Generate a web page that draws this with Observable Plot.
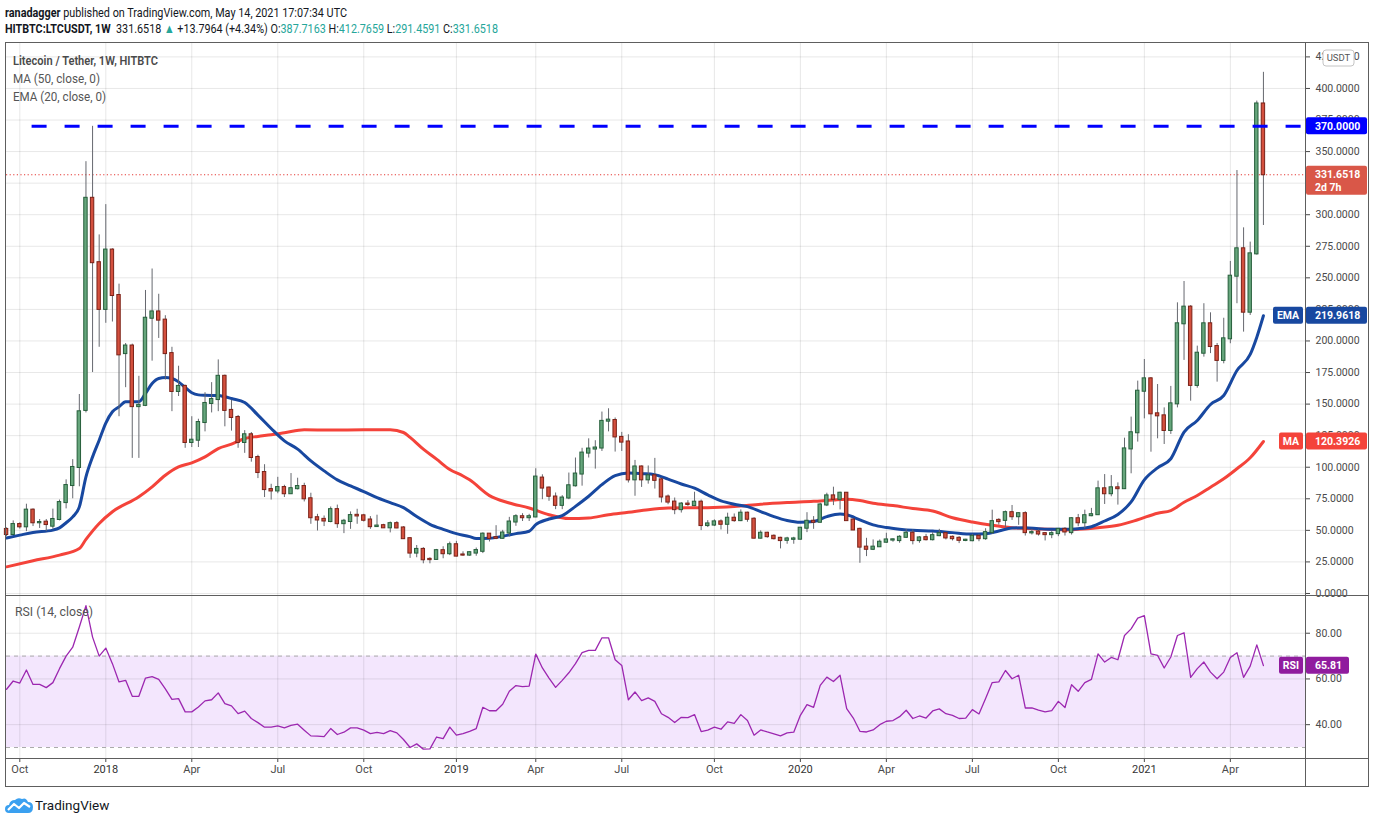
<!DOCTYPE html>
<html><head><meta charset="utf-8">
<script src="https://cdn.jsdelivr.net/npm/d3@7"></script>
<script src="https://cdn.jsdelivr.net/npm/@observablehq/plot@0.6"></script>
<style>
html,body{margin:0;padding:0;background:#fff;overflow:hidden}
#wrap{position:relative;width:1376px;height:823px;overflow:hidden;background:#fff;font-family:Roboto,"Liberation Sans",sans-serif;color:#131722}
.abs{position:absolute}
.fit{display:inline-block;white-space:nowrap;transform-origin:left center}
.teal{color:#26a69a}
</style></head><body><div id="wrap"></div>
<script>
// ---------------- data ----------------
const start = "2017-09-18"; // first weekly bar (Monday)
const open = [
50.7,46.7,54.6,52.8,66,56,56.5,53.3,58.6,72,
85.5,99.8,145,313,262,225,272,236,190,196,
148,149,218,223,216.5,190,160,164,119.6,121.4,
135.4,150.5,153.6,172,145,139.4,119.6,125.7,107.7,95.8,
82.3,81.2,83.9,79,83,84.7,75,60,58.7,57,
66.4,55.3,57,61.9,61.5,58.2,53,53.7,52,55.3,
51.9,43.4,32,34.9,27,27,33.9,31.5,38.6,30.5,
30.4,32,33.4,47,44.2,43.7,47.9,56.6,60.8,60,
60.6,91.4,83.5,76.4,69.8,75.6,85.3,94.6,111.2,114.4,
115.2,136.5,137,123.6,120,90,100.2,90,93.2,90,
76.4,72.4,66.4,70.8,69.6,72.3,53.8,54.2,56.7,54.8,
59.6,57.7,63.6,58.8,43.8,47.7,45.3,43.7,42.1,42.9,
43,51.7,57.2,56.4,70.1,77.3,74.6,79.4,58.2,50.8,
36.7,35,37,40.6,42.3,41.9,44.5,47.7,41.9,44.2,
42.6,45.8,47.4,44.5,43.7,42,41.8,45.3,43.4,48.2,
57.9,57.9,64,60.8,63.2,48,48.7,47.4,46.6,47.4,
50.8,48.2,59.2,56,61.6,62.4,82.9,79,83.7,83,
114.5,127.3,160.2,170,142.3,140.7,129.1,150.2,213.6,226.8,
164.8,190.3,213.6,195.6,184.6,201.7,251.3,273,222.8,269,
387.7163];
const high = [
52,57.5,56,70.7,67,58.6,58.6,66.8,74,90,
106,157.6,342,370,284,308,273,245,198,197.5,
172,240,257,237,220,195,180,165,140,138,
159,167,185,173,153,141,129,127.5,109.5,102,
86.5,92,85.7,95,91.3,87.3,79.4,62.7,61.4,68.5,
70,58.7,64.6,66.7,62.7,60.9,62,54.8,56.6,56.9,
52.9,44.2,38,36.3,28.3,34.9,37,40.7,41.3,33,
33,36,48,47.4,53.7,50,60.3,62.4,63.2,62.7,
98.8,94,84.3,79.6,77.5,95.4,107.3,115,122.5,121,
143.7,146.3,139,127.6,125.7,105.4,101,101,107,91.4,
78,75.6,72,73.5,80.2,74,57.7,58.3,58.3,63.6,
63,66.2,64.4,60,49.6,48.5,46.4,44.5,44.5,44.5,
52.2,64,60.9,71.5,79.4,84.2,80.2,80,59,51.7,
43.7,42.4,42.4,47.7,43.2,45.8,50.8,50.3,45,46.8,
48.2,50.8,48.4,45.5,45,42.9,46.8,46.8,51.3,66,
59.2,65.3,69.7,64,64.7,50.8,50.3,48.2,49,51.3,
52.1,60,62.6,66,67.4,89,94.2,93.4,87.6,123,
139.7,168.2,185.3,171,165.5,147,164,230.2,247.1,228,
195.9,229.5,222.3,198,218,263,335,289.6,278.3,390,
412.7659];
const low = [
45,46,51,49,53,51.5,49,51,57.5,67,
75,84.5,143,175,195,214,215,140,163,107,
107,148,184,202,169,144,156,115,115.6,115.6,
128,143,144,132,128.6,115,111,104,91,76,
74,79,76,78.5,82,72.5,54.8,49.5,53,56,
51.6,47.4,50.8,54.8,56.6,50.8,52.5,51.6,48,51.3,
42.9,27.8,28.3,23.5,23.5,26.5,27.5,30,29,29.5,
29.5,29.5,31.6,40.8,42.6,43,44.8,53.2,57,57,
60,74.3,73,66.4,66.4,74.3,84.3,85,107.3,98.5,
112.5,128,112,112.5,87.5,77,84,86.6,82.7,71.7,
70.3,62.4,63.7,69,68.8,49.8,52.2,53,50.3,46.9,
56.4,56.9,56.4,43.2,43.2,43.8,42.4,35.3,39,39,
42.4,48.2,50.8,56,68.8,69.6,66.2,57.4,49.8,23.9,
29.2,34,36.6,39.8,40.6,39.8,43.7,38.5,39.8,41.6,
41.6,45,42.4,41.6,39.5,41,41,41,42.1,46.8,
54.2,52.1,57.9,54,45.5,46.3,45.5,41.6,43.4,45,
45.5,46.3,52.9,51.3,60.8,61.8,70.5,76.6,70,82.4,
94.8,119.9,138.3,111.9,122.5,118,126,147,184.6,152.3,
162.6,187.2,190,167.4,181.9,197.8,229.5,207,220.2,268,
291.4591];
const close = [
46.7,54.6,52.8,66,56,56.2,54.6,58.6,72,85.5,
99.8,143.9,313,262,225,272,236,189,196,148,
149,218,223,216.5,190,160,164,119.6,121.4,135.4,
150.5,153.6,172,145,139.4,119.6,125.7,107.7,95.8,82.3,
81.2,83.9,79,83,84.7,75,60,58.2,57.4,66.4,
55.3,57.2,61.7,61.4,58,52.9,53.4,52,55.3,51.9,
43.4,32,34.9,26.7,26.8,33.9,31.5,38.6,29.6,30.4,
32.3,34,47,43.6,43.7,47.9,56.6,60.8,60,60.8,
92.2,83.5,77,69.8,75.6,85.3,94.6,111.2,114.4,115.2,
136.3,137.3,124,119.9,90,100.2,90,93.2,89.6,76.4,
72.4,66.4,70.8,70.5,72.3,53.8,55.1,56.7,54.8,59.6,
57.7,63.6,58.8,43.8,47.7,45,43.4,41.9,43.2,43.2,
51.7,57.2,56.4,70.1,77.3,74.6,79.4,57.7,50.3,36.7,
35,36.7,40.6,42.4,42.5,44.5,47.7,41.9,44,42.6,
45.8,47.4,44,43.4,42.1,42.2,45.3,43.4,48.2,56.9,
56.9,64,60.8,63.2,48.2,48.2,47.1,46.6,47.4,50.8,
48.7,59.2,56,61.6,62.4,82.9,79,83.7,83,114.5,
127.3,160.2,170,142.3,140.7,129.1,150.2,213.6,226.8,164.8,
190.3,213.6,195.6,184.6,201.7,251.3,273,222.8,269,387.7163,
331.6518];
const rsi = [
55.5,59.1,58.2,63.9,57.6,57.6,56.2,58.4,64.5,70,
73.9,82.7,92.1,78.3,70,73.5,66.7,58.7,59.4,52.4,
52.4,60.4,61,59.8,55.7,51.1,51.4,45.6,45.6,47.7,
50.4,50.9,53.9,49.2,48.2,44.8,45.9,42.7,40.9,38.9,
38.9,39.5,38.6,39.7,40.2,37.6,35.1,35,34.8,38.3,
35.7,36.7,38.6,38.6,37.6,36.1,36.6,36.1,37.4,36.4,
33.5,30,31.6,29.3,29.4,34.6,33.9,38.9,35.4,36.1,
37.1,38.3,47.6,46.1,46.1,48.9,54.6,57.1,56.6,56.9,
70.9,64.8,60.4,56.3,59.4,62.7,66.7,71.5,72.5,72.5,
78,78,68.4,65.9,50.9,54.3,50.5,51.7,50.2,44.8,
43.2,40.9,43.2,43.1,44.4,37,37.6,38.9,38,41.2,
40.6,44.4,41.8,35.4,37.7,36.8,36,35.1,36.4,36.7,
44.1,48.8,47.6,57.2,60.8,58.9,61.6,47,42.9,37.1,
36.8,37.7,40,41.5,41.8,43.5,46.3,42.7,43.8,42.9,
46,46.9,44.8,44.1,42.7,42.9,46.6,44.7,51.4,58.4,
58.7,63.7,60.1,61.6,47.3,47.3,46.4,45.6,46.1,50.2,
47.5,57.5,54.6,58.4,59.8,71,67.4,69.4,68.4,79,
81.9,86.6,87.7,71,70.3,64.8,69.6,79,80.2,60.7,
64.5,67.4,63,60.1,63,69.4,71.5,60.7,65.6,74.9,
65.81];
// EMA(20) and MA(50) at these bar numbers
const emaWeek = [0,2,4,7,8,9,10,11,12,13,14,15,16,17,18,20,21,22,23,24,25,26,27,28,29,30,32,33,34,36,38,40,42,44,46,48,50,52,54,56,58,60,62,64,66,68,70,71,73,75,77,79,80,82,84,86,88,90,92,94,96,98,100,102,104,106,108,110,112,114,116,118,120,122,124,126,127,129,131,133,135,137,140,143,146,148,150,152,154,156,158,160,162,164,166,168,170,172,174,176,178,180,182,184,186,188,189,190];
const emaValue = [44,46.2,48.3,50.2,52,56,60.7,68.6,92.4,108.2,121.4,135,143.9,147.8,151.8,151.8,158.4,166.3,170.3,171,170.3,167.6,163.2,159,157.3,157,156.8,155.8,154.4,151.3,141.3,130.7,120.9,114.3,105,97.1,90,85.2,80.7,75.9,72,68,60.9,54.8,50.8,47.4,45,43.5,43.7,45.3,47.4,49.3,54.5,59,61.7,69,77,86.2,93.3,95.4,94.9,94.1,90.6,86.7,83.4,78.1,73.3,70.7,68.8,64.9,60.9,57.8,56.4,57,60.9,63,62.3,58.3,54.3,52.2,50.9,50,49.5,48.2,47.1,47.4,49.5,51.8,52.1,51.3,50.8,50.8,51.3,52.9,57.4,62.6,72.5,90,99.5,106.7,127.8,137,149.7,156.8,176.6,189.3,203,219.9618];
const maWeek = [0,4,8,11,12,14,16,20,22,24,26,28,30,32,34,36,38,40,42,45,49,54,58,60,61,63,65,67,69,70,73,76,79,82,85,88,91,94,97,100,103,106,110,114,118,122,125,127,129,131,134,137,140,143,146,149,152,155,158,160,162,165,168,171,174,176,178,180,182,184,186,188,190];
const maValue = [21.1,25.9,30.4,35.6,42.8,55.4,64.7,76.6,84.5,93.7,100.3,103.5,108.2,114.8,118.3,122.8,124.4,125.7,127.3,129.7,129.4,129.7,129.7,127.5,123.6,114.3,106.4,98.2,93.1,90,77.5,71.7,67.7,62.4,59.3,59.8,62.4,64.3,66.4,67.7,68,68,68.8,70.7,72,73,74.1,74.6,73.6,71.5,69.6,67.3,65.3,60,56.6,54,52.1,51.3,50.8,50.3,50.8,52.1,54,58.4,63.6,65.7,72.3,77.6,84.2,90.8,98.8,107.5,120.3926];
const priceTicks = [0,25,50,75,100,125,150,175,200,225,250,275,300,325,350,375,400,425];
const priceLabels = [0,25,50,75,100,125,150,175,200,225,250,275,300,350,375,400,425]; // 325 sits under the last-price tag
const rsiTicks = [80,60,40];
const rsiBand = [30,70];
const tickMonths = ["2017-10","2018-01","2018-04","2018-07","2018-10","2019-01","2019-04","2019-07","2019-10","2020-01","2020-04","2020-07","2020-10","2021-01","2021-04"];
const tickLabels = ["Oct","2018","Apr","Jul","Oct","2019","Apr","Jul","Oct","2020","Apr","Jul","Oct","2021","Apr"];
const resistance = [370];
const resistanceFrom = "2017-10-15";
const prevClose = 317.8554; // header shows change +13.7964
const countdown = "2d 7h";

// ---------------- layout ----------------
const W = 1376, xL = 6, xR = 1305;
const day = 864e5, jan18 = Date.UTC(2018,0,1), pxDay = 6.615/7;
const xDomain = [new Date(jan18 - (105.3 - xL)/pxDay*day), new Date(jan18 + (xR - 105.3)/pxDay*day)];
const mainTop = 42, mainH = 553, rsiTop = 596, rsiH = 190;
const grid = "rgba(0,0,0,0.095)";
const upFill = "#66a67c", upLine = "#265e3b", dnFill = "#d4503e", dnLine = "#7a2117", wick = "#66686f";
const emaColor = "#1848a0", maColor = "#f4433a", rsiColor = "#9c27b0";
const font = "Roboto, 'Liberation Sans', sans-serif";

const dates = open.map((_, i) => d3.utcMonday.offset(new Date(start), i));
const bars = dates.map((date, i) => ({date, open: open[i], high: high[i], low: low[i], close: close[i]}));
const ema = emaWeek.map((w, i) => ({date: dates[w], v: emaValue[i]}));
const ma = maWeek.map((w, i) => ({date: dates[w], v: maValue[i]}));
const rsiData = rsi.map((v, i) => ({date: dates[i], v}));
const tickDates = tickMonths.map(m => d3.utcMonday.ceil(new Date(m + "-01")));
const labelOf = new Map(tickDates.map((d, i) => [+d, tickLabels[i]]));
const half = 1.8 * day;
const last = bars[bars.length - 1];

const wrap = document.getElementById("wrap");
function html(s, css){ const d = document.createElement("div"); d.className = "abs"; d.style.cssText = css; d.innerHTML = s; wrap.appendChild(d); return d; }

// ---------------- main price pane ----------------
const main = Plot.plot({
  width: W, height: mainH, marginLeft: xL, marginRight: W - xR, marginTop: 0, marginBottom: 0,
  style: {fontFamily: font, fontSize: "10.5px", color: "#4a4a4a", background: "transparent", overflow: "visible"},
  x: {type: "utc", domain: xDomain, axis: null, label: null},
  y: {domain: [-1.6, 436.4], axis: null, label: null},
  marks: [
    Plot.ruleY(priceTicks, {stroke: grid}),
    Plot.ruleX(tickDates, {stroke: grid}),
    Plot.ruleY([last.close], {stroke: "#e53935", strokeDasharray: "1.2,2.4", strokeWidth: 1}),
    Plot.line(ma, {x: "date", y: "v", stroke: maColor, strokeWidth: 3, curve: "monotone-x"}),
    Plot.line(ema, {x: "date", y: "v", stroke: emaColor, strokeWidth: 3, curve: "monotone-x"}),
    Plot.ruleX(bars, {x: "date", y1: "low", y2: "high", stroke: wick, strokeWidth: 1}),
    Plot.rect(bars, {x1: d => new Date(+d.date - half), x2: d => new Date(+d.date + half), y1: "open", y2: "close",
      insetTop: -0.5, insetBottom: -0.5,
      fill: d => d.close >= d.open ? upFill : dnFill, stroke: d => d.close >= d.open ? upLine : dnLine, strokeWidth: 1}),
    Plot.ruleY(resistance, {x1: new Date(resistanceFrom), x2: xDomain[1], stroke: "#0000ff", strokeWidth: 3, strokeDasharray: "15,18"}),
    Plot.axisY(priceLabels, {anchor: "right", label: null, tickFormat: d => d.toFixed(4), tickSize: 4, tickPadding: 6, fill: "#4a4a4a", stroke: "#4a4a4a"})
  ]
});
main.style.position = "absolute"; main.style.left = "0px"; main.style.top = mainTop + "px";
wrap.appendChild(main);

// ---------------- RSI pane ----------------
const rsiChart = Plot.plot({
  width: W, height: rsiH, marginLeft: xL, marginRight: W - xR, marginTop: 0, marginBottom: 28,
  style: {fontFamily: font, fontSize: "10.5px", color: "#4a4a4a", background: "transparent", overflow: "visible"},
  x: {type: "utc", domain: xDomain, axis: null, label: null},
  y: {domain: [25.2, 96.07], axis: null, label: null},
  marks: [
    Plot.rect([0], {x1: xDomain[0], x2: xDomain[1], y1: rsiBand[0], y2: rsiBand[1], fill: "#f3e6fd"}),
    Plot.ruleY(rsiTicks, {stroke: grid}),
    Plot.ruleX(tickDates, {stroke: grid}),
    Plot.ruleY(rsiBand, {stroke: "#aaaaaa", strokeDasharray: "4,4"}),
    Plot.line(rsiData, {x: "date", y: "v", stroke: rsiColor, strokeWidth: 1.3}),
    Plot.axisY(rsiTicks, {anchor: "right", label: null, tickFormat: d => d.toFixed(2), tickSize: 4, tickPadding: 6, fill: "#4a4a4a", stroke: "#4a4a4a"}),
    Plot.axisX(tickDates, {anchor: "bottom", label: null, tickFormat: d => labelOf.get(+d), tickSize: 4, tickPadding: 3, fill: "#4a4a4a", stroke: "#4a4a4a", fontSize: 11})
  ]
});
rsiChart.style.position = "absolute"; rsiChart.style.left = "0px"; rsiChart.style.top = rsiTop + "px";
wrap.appendChild(rsiChart);

// ---------------- badges (positioned with the plots' scales) ----------------
function badge(svg, yc, x, w, h, fill, lines, anchor) {
  const g = d3.select(svg).append("g").attr("font-family", font);
  g.append("rect").attr("x", x).attr("y", yc - 8.5).attr("width", w).attr("height", h).attr("rx", 2).attr("fill", fill);
  lines.forEach((t, k) => g.append("text")
    .attr("x", anchor === "middle" ? x + w / 2 : x + 9).attr("y", yc + k * 13).attr("dy", "0.35em")
    .attr("text-anchor", anchor === "middle" ? "middle" : "start")
    .attr("fill", "#fff").attr("font-size", 10.5).attr("font-weight", "bold").text(t));
}
const ys = main.scale("y"), yr = rsiChart.scale("y");
const emaLast = emaValue[emaValue.length - 1], maLast = maValue[maValue.length - 1], rsiLast = rsi[rsi.length - 1];
badge(main, ys.apply(resistance[0]), 1306, 61, 17, "#0000ff", [resistance[0].toFixed(4)]);
badge(main, ys.apply(last.close), 1306, 61, 29, "#d95748", [last.close.toFixed(4), countdown]);
badge(main, ys.apply(emaLast), 1273, 30, 17, emaColor, ["EMA"], "middle");
badge(main, ys.apply(emaLast), 1306, 61, 17, emaColor, [emaLast.toFixed(4)]);
badge(main, ys.apply(maLast), 1279, 24, 17, maColor, ["MA"], "middle");
badge(main, ys.apply(maLast), 1306, 61, 17, maColor, [maLast.toFixed(4)]);
badge(rsiChart, yr.apply(rsiLast), 1279, 24, 17, "#901c9e", ["RSI"], "middle");
badge(rsiChart, yr.apply(rsiLast), 1306, 43, 17, "#901c9e", [rsiLast.toFixed(2)]);
// currency tag at top of price scale
{
  const g = d3.select(main).append("g").attr("font-family", font);
  g.append("rect").attr("x", 1323).attr("y", 8).attr("width", 31).attr("height", 16).attr("rx", 3).attr("fill", "#fff").attr("stroke", "#c4c4c4");
  g.append("text").attr("x", 1338.5).attr("y", 16).attr("dy", "0.35em").attr("text-anchor", "middle").attr("font-size", 9.5).attr("fill", "#555").text("USDT");
}
d3.select(rsiChart).selectAll("text").filter(function(){ return /^\d{4}$/.test(this.textContent); }).attr("fill", "#333");

// ---------------- frames ----------------
function line(l, t, w, h){ html("", `left:${l}px;top:${t}px;width:${w}px;height:${h}px;background:#5e5e5e`); }
line(5, 42, 1364, 1); line(5, 42, 1, 745); line(1368, 42, 1, 745); line(5, 786, 1364, 1);
line(5, 595, 1364, 1); line(5, 758, 1364, 1); line(1305, 42, 1, 745);

// ---------------- texts ----------------
const f4 = v => v.toFixed(4);
const chg = last.close - prevClose;
const h1 = html(`<span class="fit"><b>ranadagger</b> published on TradingView.com, May 14, 2021 17:07:34 UTC</span>`, "left:5px;top:5px;font-size:13px;line-height:16px;color:#131722");
const h2 = html(`<span class="fit"><b>HITBTC:LTCUSDT, 1W</b>&nbsp; ${f4(last.close)} <span class="teal">▲</span> +${f4(chg)} (+${(chg / prevClose * 100).toFixed(2)}%) O:<span class="teal">${f4(last.open)}</span> H:<span class="teal">${f4(last.high)}</span> L:<span class="teal">${f4(last.low)}</span> C:<span class="teal">${f4(last.close)}</span></span>`, "left:5px;top:21px;font-size:13px;line-height:16px;color:#131722");
const l1 = html(`<span class="fit" style="font-weight:600">Litecoin / Tether, 1W, HITBTC</span>`, "left:13px;top:53px;font-size:12.5px;line-height:16px;color:#4a4a4a");
const l2 = html(`<span class="fit">MA (50, close, 0)</span>`, "left:13px;top:71px;font-size:12.5px;line-height:16px;color:#555");
const l3 = html(`<span class="fit">EMA (20, close, 0)</span>`, "left:13px;top:89px;font-size:12.5px;line-height:16px;color:#555");
const l4 = html(`<span class="fit">RSI (14, close)</span>`, "left:15px;top:604px;font-size:12.5px;line-height:16px;color:#555");
const logo = html(`<svg width="28" height="18" viewBox="0 0 28 18" style="vertical-align:middle"><path d="M4 17 Q0 17 0 13 Q0 9 4 9 Q5 4 10 4 Q13 1 17 3 Q21 1 23 6 Q28 6 28 11 Q28 17 23 17 Z" fill="#3aa0f0"/><polyline points="3,14 9,8 14,12 19,7 25,11" fill="none" stroke="#fff" stroke-width="2.2" stroke-linejoin="round"/></svg><span class="fit" style="vertical-align:middle;margin-left:2px">TradingView</span>`, "left:5px;top:795px;font-size:13.5px;line-height:18px;color:#131722");
function fit(el, target){ const s = el.querySelector(".fit"); const w = s.getBoundingClientRect().width; if (w > 0) s.style.transform = `scaleX(${target / w})`; }
fit(h1, 342); fit(h2, 493); fit(l1, 145); fit(l2, 87); fit(l3, 93); fit(l4, 78);
</script></body></html>
